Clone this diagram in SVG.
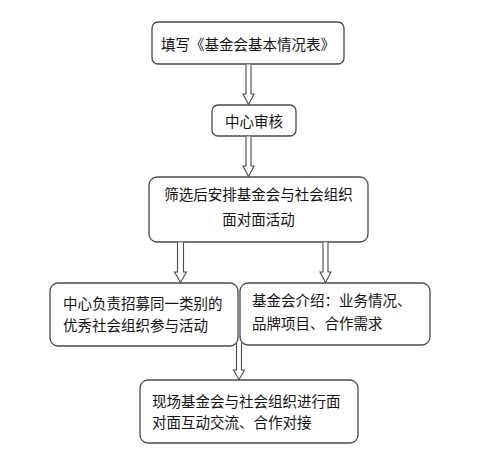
<svg xmlns="http://www.w3.org/2000/svg" width="500" height="456" viewBox="0 0 500 456">
<style>
.box{fill:#fff;stroke:#4a4a4a;stroke-width:1.3}
.t{font-family:"Noto Sans CJK SC","Noto Sans",sans-serif;font-size:14.5px;fill:#111;dominant-baseline:central}
.ar{fill:#fff;stroke:#4a4a4a;stroke-width:1.1;stroke-linejoin:miter}
</style>
<rect width="500" height="456" fill="#fff"/>
<g id="n1"><rect class="box" x="152" y="22" width="192" height="42" rx="6"/><text class="t" x="248" y="43" text-anchor="middle">填写《基金会基本情况表》</text></g>
<g id="n2"><rect class="box" x="212" y="105" width="84" height="31" rx="6"/><text class="t" x="254" y="120.5" text-anchor="middle">中心审核</text></g>
<g id="n3"><rect class="box" x="149" y="177" width="219" height="65" rx="8"/><text class="t" x="258.5" y="193" text-anchor="middle">筛选后安排基金会与社会组织</text><text class="t" x="258.5" y="218" text-anchor="middle">面对面活动</text></g>
<g id="n4"><rect class="box" x="50" y="283" width="188" height="63" rx="8"/><text class="t" x="63" y="302">中心负责招募同一类别的</text><text class="t" x="63" y="324">优秀社会组织参与活动</text></g>
<g id="n5"><rect class="box" x="240" y="283" width="190" height="62" rx="8"/><text class="t" x="252" y="299">基金会介绍：业务情况、</text><text class="t" x="252" y="322">品牌项目、合作需求</text></g>
<g id="n6"><rect class="box" x="140" y="380" width="218" height="63" rx="8"/><text class="t" x="152" y="400">现场基金会与社会组织进行面</text><text class="t" x="152" y="421">对面互动交流、合作对接</text></g>
<g id="connectors">
<path class="ar" d="M246,64.5 L246,94 L243,94 L248.5,104.5 L254,94 L251,94 L251,64.5"/>
<path class="ar" d="M246,136.5 L246,166 L243,166 L248.5,176.5 L254,166 L251,166 L251,136.5"/>
<path class="ar" d="M177.5,242.5 L177.5,272 L174.5,272 L180.5,282.5 L186.5,272 L183.5,272 L183.5,242.5"/>
<path class="ar" d="M323,242.5 L323,272 L320,272 L325.5,282.5 L331,272 L328,272 L328,242.5"/>
<path class="ar" d="M236.5,343 L236.5,370 L233.5,370 L239,379.5 L244.5,370 L241.5,370 L241.5,343"/>
</g>
</svg>
